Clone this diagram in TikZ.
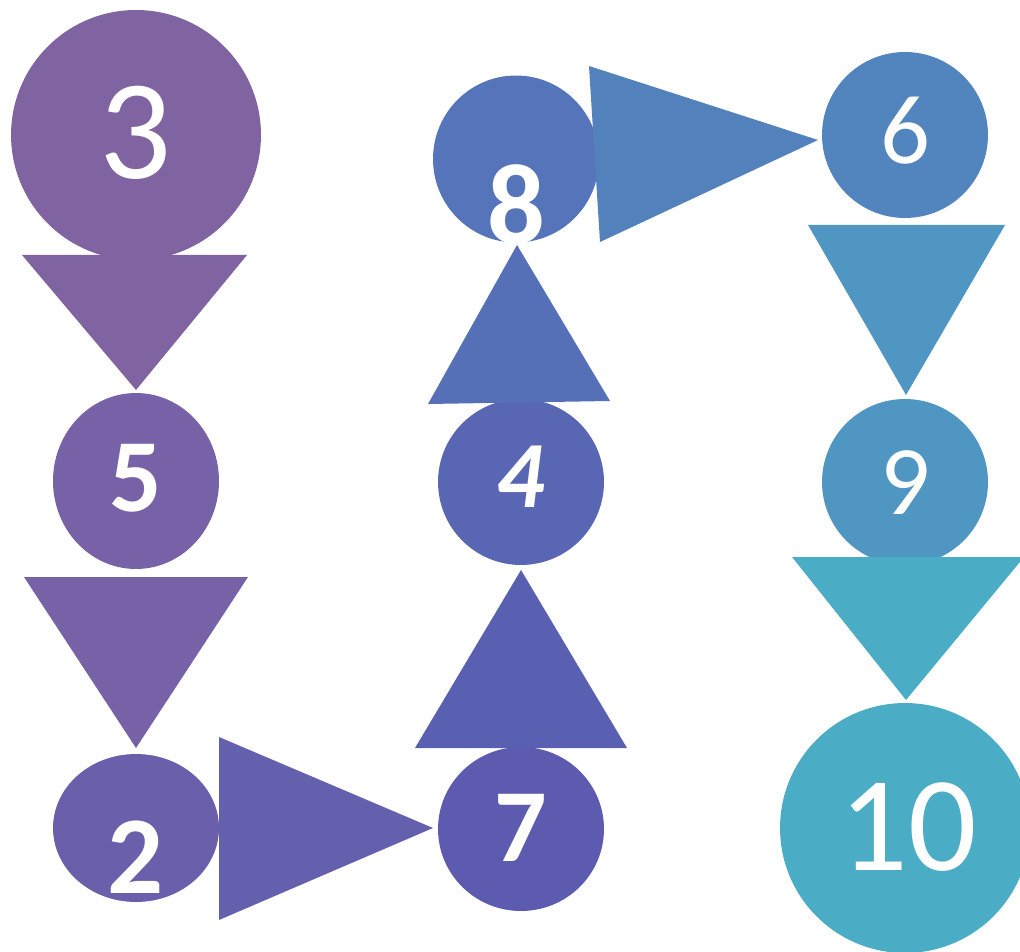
\documentclass[tikz,border=0pt]{standalone}
\usepackage{fontspec}
\setmainfont{Carlito}
\usepackage{tikz}
\usetikzlibrary{shapes.geometric}

\definecolor{cThree}{HTML}{8064A2}
\definecolor{cFive}{HTML}{7762A8}
\definecolor{cTwo}{HTML}{695FAB}
\definecolor{cSeven}{HTML}{5C5BB0}
\definecolor{cFour}{HTML}{5966B3}
\definecolor{cEight}{HTML}{5574BA}
\definecolor{cSix}{HTML}{5285BE}
\definecolor{cNine}{HTML}{4F96C3}
\definecolor{cTen}{HTML}{4BACC6}
\definecolor{aTwo}{HTML}{6560AD}
\definecolor{aSeven}{HTML}{5A60B1}
\definecolor{aFour}{HTML}{5670B7}
\definecolor{aEight}{HTML}{5281BC}

\begin{document}
\begin{tikzpicture}[x=0.02cm,y=-0.02cm,
    blob/.style={ellipse,inner sep=0pt},
    num/.style={text=white,inner sep=0pt}]
            \useasboundingbox (0,0) rectangle (1020,952);
            \clip (0,0) rectangle (1020,952);

            % circles
            \node[blob,fill=cThree,minimum width=5cm,minimum height=5cm] (n3) at (136,135) {};
            \node[blob,fill=cFive,minimum width=3.32cm,minimum height=3.52cm] (n5) at (136,481) {};
            \node[blob,fill=cTwo,minimum width=3.32cm,minimum height=2.96cm] (n2) at (136,828) {};
            \node[blob,fill=cSeven,minimum width=3.32cm,minimum height=3.28cm] (n7) at (521,829) {};
            \node[blob,fill=cFour,minimum width=3.32cm,minimum height=3.32cm] (n4) at (521,482) {};
            \node[blob,fill=cEight,minimum width=3.32cm,minimum height=3.34cm] (n8) at (516,159) {};
            \node[blob,fill=cSix,minimum width=3.32cm,minimum height=3.32cm] (n6) at (905,135) {};
            \node[blob,fill=cNine,minimum width=3.32cm,minimum height=3.32cm] (n9) at (905,482) {};
            \node[blob,fill=cTen,minimum width=5cm,minimum height=5cm] (n10) at (905,828) {};

            % triangles
            \foreach \ax/\ay/\bx/\by/\cx/\cy/\col in{22/255/247/255/136/390/cThree,
                24/577/248/577/136/748/cFive,
                219/737/219/920/433/828/aTwo,
                415/748/627/748/521/570/aSeven,
                428/404/610/401/517/245/aFour,
                589/66/600/242/818/140/aEight,
                808/225/1005/225/906/395/cNine,
                792/557/1024/557/906/700/cTen}{
            \fill[\col](\ax,\ay)--(\bx,\by)--(\cx,\cy)--cycle;
            }

            % labels
            \node[num,font=\fontsize{81}{81}\selectfont] at (136,133) {3};
            \node[num,font=\fontsize{59}{59}\selectfont\bfseries] at (136,478) {5};
            \node[num,font=\fontsize{63}{63}\selectfont\bfseries] at (136,857) {2};
            \node[num,font=\fontsize{59}{59}\selectfont\bfseries] at (521,828) {7};
            \node[num,font=\fontsize{54}{54}\selectfont\bfseries\itshape] at (521,477) {4};
            \node[num,font=\fontsize{65}{65}\selectfont\bfseries] at (516,204) {8};
            \node[num,font=\fontsize{56}{56}\selectfont] at (905,131) {6};
            \node[num,font=\fontsize{56}{56}\selectfont] at (905,483) {9};
            \node[num,font=\fontsize{77}{77}\selectfont] at (908,827) {10};

        \end{tikzpicture}
\end{document}
